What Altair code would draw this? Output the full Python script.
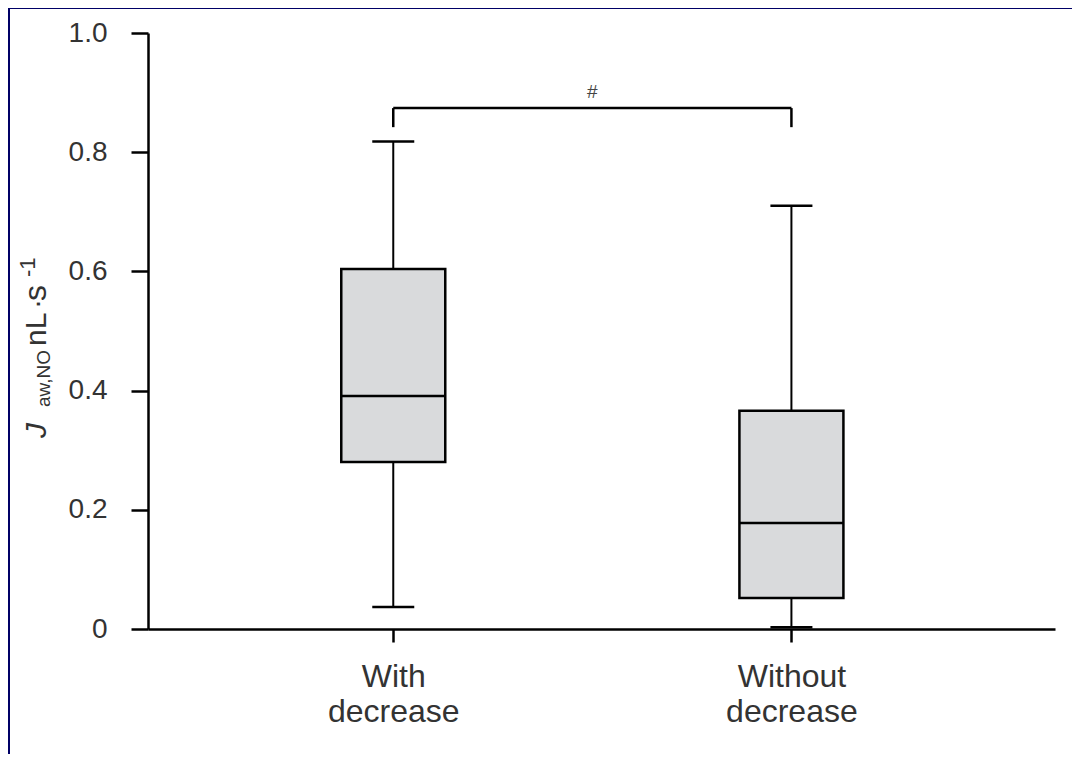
import altair as alt
import pandas as pd

# ---- data ----
groups = ["With decrease", "Without decrease"]
whisker_low = [0.037, 0.003]
q1 = [0.280, 0.052]
median = [0.391, 0.178]
q3 = [0.604, 0.366]
whisker_high = [0.818, 0.710]

bracket_top = 0.874
bracket_bottom = 0.842
sig_label = "#"

y_ticks = [0, 0.2, 0.4, 0.6, 0.8, 1.0]

df = pd.DataFrame({
    "group": groups,
    "lo": whisker_low,
    "q1": q1,
    "med": median,
    "q3": q3,
    "hi": whisker_high,
})
bracket_df = pd.DataFrame({"start": [groups[0]], "end": [groups[1]],
                           "top": [bracket_top], "label": [sig_label]})
legs_df = pd.DataFrame({"group": groups, "top": [bracket_top] * 2,
                        "bottom": [bracket_bottom] * 2})

W, H = 907, 596
FONT = "Liberation Sans"
TXT = "#333333"

x_scale = alt.Scale(type="point", domain=groups, padding=0.639, align=0.482)
y_scale = alt.Scale(domain=[0, 1], nice=False, zero=True)

x_axis = alt.Axis(
    title=None, labelAngle=0, labelAlign="center", labelBaseline="top",
    labelExpr="split(datum.label, ' ')",
    labelFont=FONT, labelFontSize=32, labelColor=TXT, labelLineHeight=35,
    labelPadding=19, tickSize=13, tickWidth=2.5, tickColor="black",
    domainColor="black", domainWidth=2.5, grid=False,
)
y_axis = alt.Axis(
    title=None, values=y_ticks,
    labelExpr="datum.value == 0 ? '0' : format(datum.value, '.1f')",
    labelFont=FONT, labelFontSize=28, labelColor=TXT, labelPadding=24,
    tickSize=17, tickWidth=2.5, tickColor="black",
    domainColor="black", domainWidth=2.5, grid=False,
)

base = alt.Chart(df)
X = alt.X("group:N", scale=x_scale, axis=x_axis)

box = base.mark_bar(size=104, fill="#d9dadc", stroke="black", strokeWidth=2.5).encode(
    x=X,
    y=alt.Y("q1:Q", scale=y_scale, axis=y_axis),
    y2="q3:Q",
)
whisk_lo = base.mark_rule(color="black", strokeWidth=2).encode(
    x=alt.X("group:N", scale=x_scale), y=alt.Y("lo:Q", scale=y_scale), y2="q1:Q")
whisk_hi = base.mark_rule(color="black", strokeWidth=2).encode(
    x=alt.X("group:N", scale=x_scale), y=alt.Y("q3:Q", scale=y_scale), y2="hi:Q")
cap_lo = base.mark_tick(size=42, thickness=2.5, color="black", opacity=1).encode(
    x=alt.X("group:N", scale=x_scale), y=alt.Y("lo:Q", scale=y_scale))
cap_hi = base.mark_tick(size=42, thickness=2.5, color="black", opacity=1).encode(
    x=alt.X("group:N", scale=x_scale), y=alt.Y("hi:Q", scale=y_scale))
med = base.mark_tick(size=104, thickness=2.5, color="black", opacity=1).encode(
    x=alt.X("group:N", scale=x_scale), y=alt.Y("med:Q", scale=y_scale))

bracket = alt.Chart(bracket_df).mark_rule(color="black", strokeWidth=2.5).encode(
    x=alt.X("start:N", scale=x_scale), x2="end:N",
    y=alt.Y("top:Q", scale=y_scale))
legs = alt.Chart(legs_df).mark_rule(color="black", strokeWidth=2.5).encode(
    x=alt.X("group:N", scale=x_scale),
    y=alt.Y("top:Q", scale=y_scale), y2="bottom:Q")
sig = alt.Chart(bracket_df).mark_text(
    font=FONT, fontSize=19, color="#444444", baseline="bottom", dx=199, dy=-6
).encode(
    x=alt.X("start:N", scale=x_scale), y=alt.Y("top:Q", scale=y_scale), text="label:N")

# y-axis title built from pieces (J with subscript aw,NO, unit nL·s^-1)
one = pd.DataFrame({"a": [0]})
def piece(txt, x, y, size, style="normal"):
    return alt.Chart(one).mark_text(
        text=txt, font=FONT, fontSize=size, fontStyle=style, color=TXT,
        angle=270, align="left", baseline="alphabetic",
    ).encode(x=alt.value(x), y=alt.value(y))

title_parts = [
    piece("J", -102, 405, 30, "italic"),
    piece("aw,NO", -98, 374, 19),
    piece("nL", -102, 313, 30),
    piece("\u00b7", -102, 276, 30),
    piece("s", -102, 268, 32),
    piece("-1", -113, 244, 22),
]

# navy frame strips (left and top) of the original slide
frame_left = alt.Chart(one).mark_rect(color="#000066").encode(
    x=alt.value(-140), x2=alt.value(-138), y=alt.value(-25), y2=alt.value(H + 125))
frame_top = alt.Chart(one).mark_rect(color="#000066").encode(
    x=alt.value(-140), x2=alt.value(W + 17), y=alt.value(-25), y2=alt.value(-24))

chart = alt.layer(
    frame_left, frame_top,
    whisk_lo, whisk_hi, cap_lo, cap_hi, box, med, bracket, legs, sig, *title_parts
).properties(
    width=W, height=H,
    autosize=alt.AutoSizeParams(type="none"),
    padding={"left": 140, "top": 25, "right": 17, "bottom": 125},
    background="white",
).configure_view(stroke=None)

chart.save("out.html", embed_options={"renderer": "svg", "actions": False})
